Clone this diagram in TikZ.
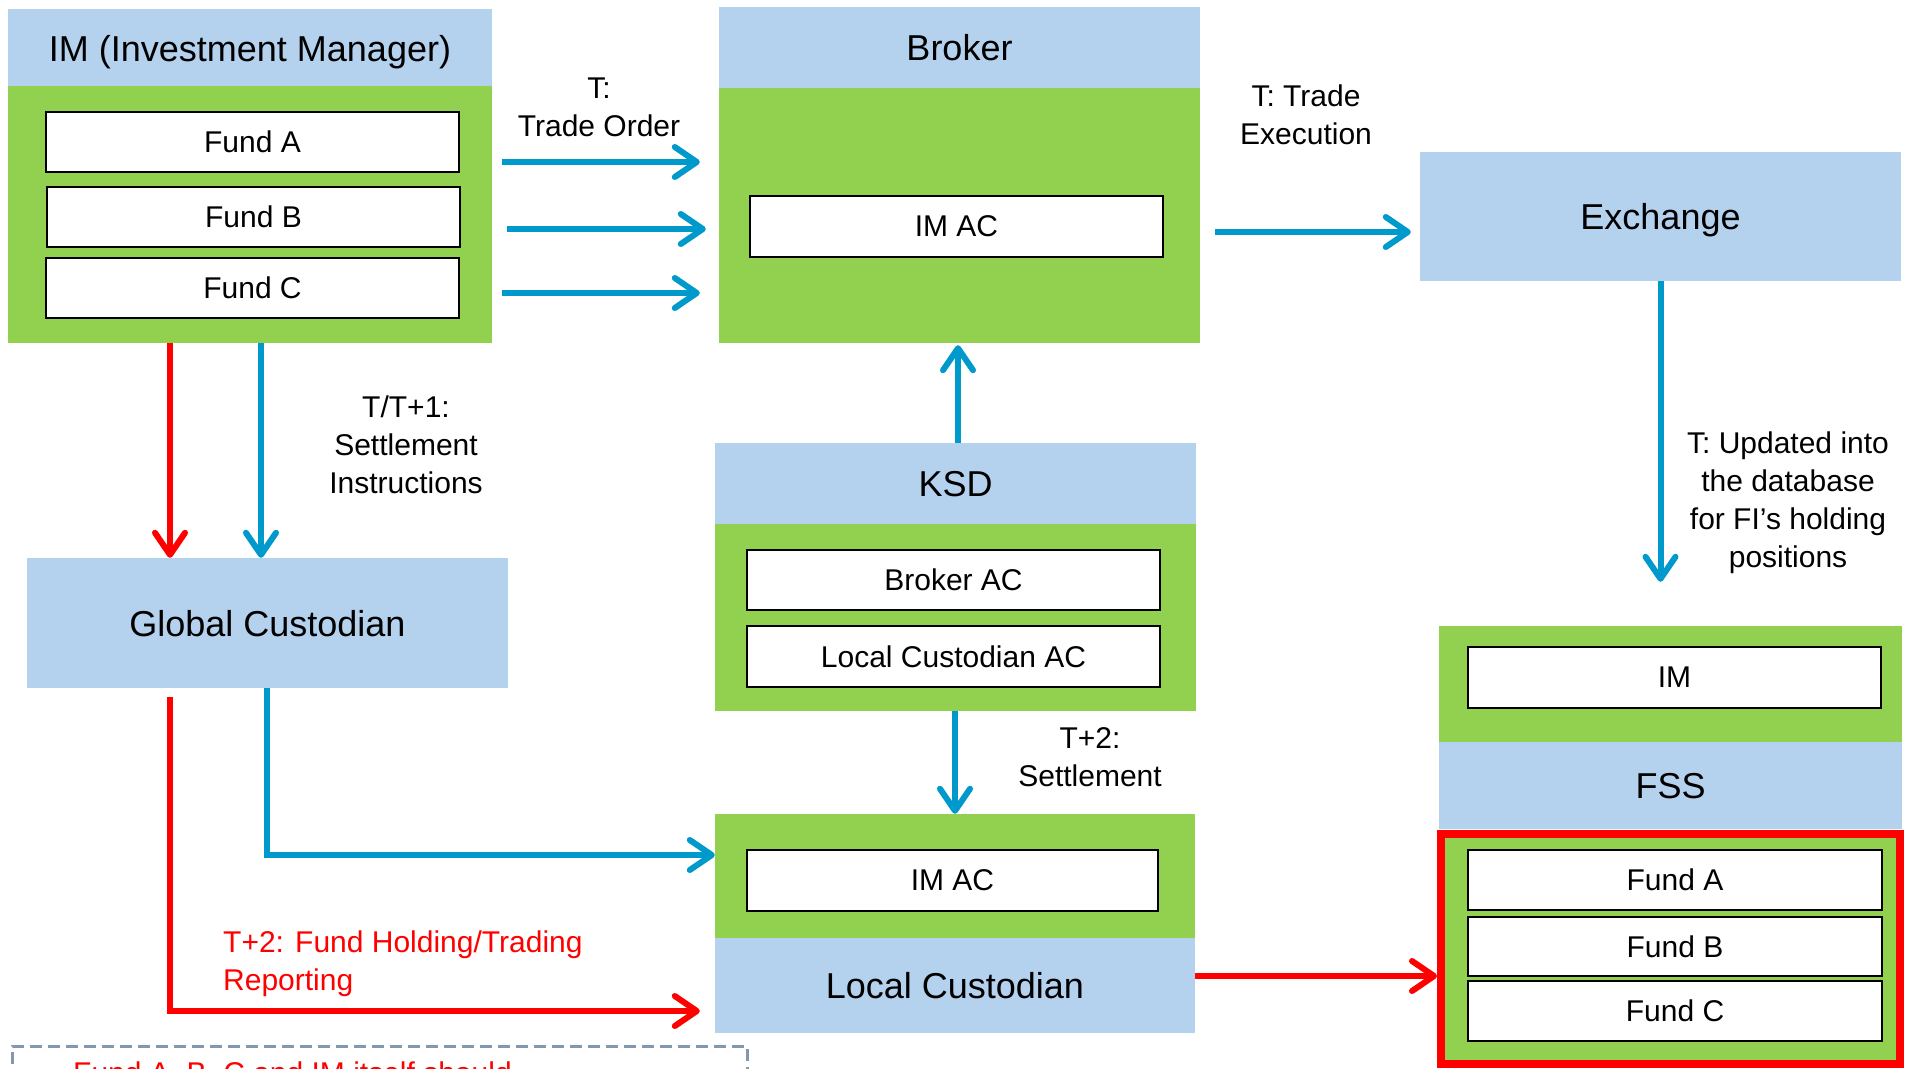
\documentclass[tikz,border=0pt]{standalone}
\usepackage{fontspec}
\setmainfont{Liberation Sans}
\usetikzlibrary{arrows.meta}
\definecolor{hdrblue}{HTML}{B4D1EE}
\definecolor{boxgreen}{HTML}{92D050}
\definecolor{arrblue}{HTML}{0099CC}
\definecolor{dashgray}{HTML}{8497B0}
\tikzset{
  hdr/.style={fill=hdrblue, draw=none, inner sep=0pt, text height=26pt, text depth=0pt, font=\fontsize{36}{43}\selectfont},
  grn/.style={fill=boxgreen, draw=none, inner sep=0pt},
  acct/.style={fill=white, draw=black, line width=2pt, inner sep=0pt, minimum width=413pt, minimum height=60pt, font=\fontsize{30}{36}\selectfont},
  lbl/.style={align=center, font=\fontsize{30}{38}\selectfont, inner sep=0pt},
  tipbarb/.tip={Straight Barb[length=22pt,width=30pt,round]},
  barrow/.style={draw=arrblue, line width=6pt, -tipbarb},
  rarrow/.style={draw=red, line width=6pt, -tipbarb},
}
\begin{document}
\begin{tikzpicture}[x=1pt,y=-1pt]
\useasboundingbox (0,0) rectangle (1910,1068);

% IM
\node[hdr, minimum width=484pt, minimum height=79pt] (imh) at (250,48) {IM (Investment Manager)};
\node[grn, minimum width=484pt, minimum height=257pt] (img) at (250,214.5) {};
\node[acct] (fa) at (252.5,142) {Fund A};
\node[acct] (fb) at (253.5,216.5) {Fund B};
\node[acct] (fc) at (252.5,288) {Fund C};

% Broker
\node[hdr, minimum width=481pt, minimum height=81pt] (brh) at (959.5,47.5) {Broker};
\node[grn, minimum width=481pt, minimum height=255pt] (brg) at (959.5,215.5) {};
\node[acct, minimum height=61pt] (bac) at (956.5,226.5) {IM AC};

% Exchange
\node[hdr, minimum width=481pt, minimum height=129pt] (exch) at (1660.5,216.5) {Exchange};

% Global custodian
\node[hdr, minimum width=481pt, minimum height=130pt] (gc) at (267.5,623) {Global Custodian};

% KSD
\node[hdr, minimum width=481pt, minimum height=81pt] (ksdh) at (955.5,483.5) {KSD};
\node[grn, minimum width=481pt, minimum height=187pt] (ksdg) at (955.5,617.5) {};
\node[acct] (kbac) at (953.5,580) {Broker AC};
\node[acct, minimum height=61pt] (klac) at (953.5,656.5) {Local Custodian AC};

% Local custodian
\node[grn, minimum width=480pt, minimum height=124pt] (lcg) at (955,876) {};
\node[hdr, minimum width=480pt, minimum height=95pt] (lcb) at (955,985.5) {Local Custodian};
\node[acct, minimum width=411pt, minimum height=61pt] (lcac) at (952.5,880.5) {IM AC};

% FSS
\node[grn, minimum width=463pt, minimum height=116pt] (fssg) at (1670.5,684) {};
\node[acct, minimum height=61pt] (fim) at (1674.5,677.5) {IM};
\node[hdr, minimum width=463pt, minimum height=87pt] (fssb) at (1670.5,785.5) {FSS};
\node[grn, draw=red, line width=8pt, minimum width=459pt, minimum height=230pt] (fsr) at (1670.5,949) {};
\node[acct, minimum width=414pt] (ffa) at (1675,880) {Fund A};
\node[acct, minimum width=414pt, minimum height=59pt] (ffb) at (1675,946.5) {Fund B};
\node[acct, minimum width=414pt] (ffc) at (1675,1011) {Fund C};

% labels
\node[lbl] (ltrade) at (599,107) {T:\\Trade Order};
\node[lbl] (lexec) at (1306,115) {T: Trade\\Execution};
\node[lbl] (lsett) at (406,445) {T/T+1:\\Settlement\\Instructions};
\node[lbl] (lupd) at (1788,503) {T: Updated into\\the database\\for FI’s holding\\positions};
\node[lbl] (lt2) at (1090,757) {T+2:\\Settlement};
\node[lbl, align=left, anchor=west, text=red] (lrep) at (223,964) {T+2: Fund Holding/Trading\\Reporting};

% row helpers
\coordinate (r1) at (0,162);
\coordinate (r2) at (0,229);
\coordinate (r3) at (0,293);
\coordinate (r4) at (0,232);
\coordinate (cred) at (170,0);
\coordinate (cblu) at (261,0);
\coordinate (cgcb) at (267,0);
\coordinate (rbl) at (0,855);
\coordinate (rrd) at (0,1011);
\coordinate (rlf) at (0,976);

% arrows
\draw[barrow, shorten >=19pt] ([xshift=10pt]img.east |- r1) -- (brg.west |- r1);
\draw[barrow, shorten >=13pt] ([xshift=15pt]img.east |- r2) -- (brg.west |- r2);
\draw[barrow, shorten >=19pt] ([xshift=10pt]img.east |- r3) -- (brg.west |- r3);
\draw[barrow, shorten >=9pt] ([xshift=15pt]brg.east |- r4) -- (exch.west |- r4);
\draw[rarrow] (img.south -| cred) -- (gc.north -| cred);
\draw[barrow] (img.south -| cblu) -- (gc.north -| cblu);
\draw[barrow, shorten >=2pt] (ksdh.north -| 958,0) -- (brg.south -| 958,0);
\draw[barrow, shorten >=44pt] (exch.south) -- (fssg.north -| exch.south);
\draw[barrow] (ksdg.south -| 955,0) -- (lcg.north -| 955,0);
\draw[barrow] (gc.south -| cgcb) |- (lcg.west |- rbl);
\draw[rarrow, shorten >=15pt] ([yshift=-9pt]gc.south -| cred) |- (lcb.west |- rrd);
\draw[rarrow] (lcb.east |- rlf) -- (fsr.west |- rlf);

% bottom (cut off) note
\begin{scope}
\clip (0,0) rectangle (1910,1068);
\draw[dashgray, line width=3pt, dash pattern=on 12pt off 6pt] (12,1100) -- (12,1046) -- (747,1046) -- (747,1100);
\node[anchor=base west, inner sep=0pt, text=red, font=\fontsize{30}{38}\selectfont] (note) at (73,1083) {Fund A, B, C and IM itself should};
\end{scope}
\end{tikzpicture}
\end{document}
